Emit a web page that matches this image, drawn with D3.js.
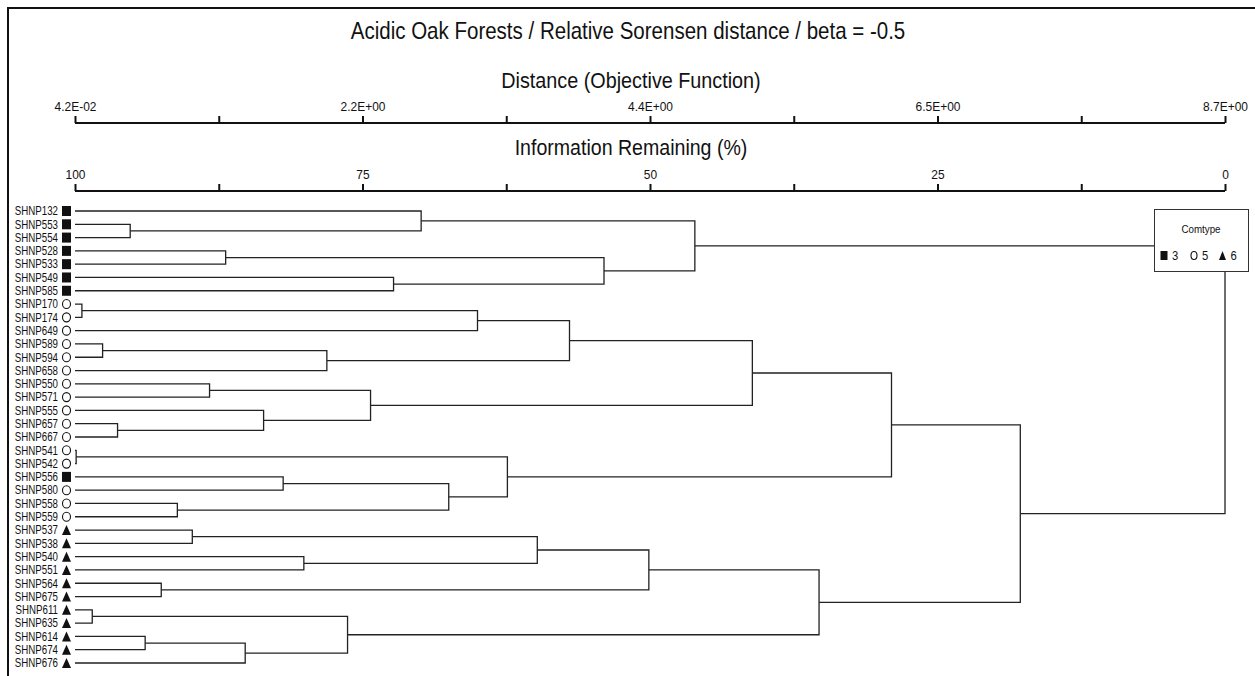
<!doctype html>
<html>
  <head>
    <meta charset="utf-8">
    <script src="https://cdn.jsdelivr.net/npm/d3@7"></script>
    <style>
    body {
      margin: 0;
      background: white;
    }

    .chart {
      font-family: 'Liberation Sans', Arial, sans-serif;
    }

    .axis path, .axis line {
      stroke: #111;
      stroke-width: 2px;
    }

    .axis .tick text {
      font-size: 13px;
      fill: #111;
    }

    .link {
      stroke: #222;
      stroke-width: 1.3px;
      fill: none;
    }

    .leaf-label {
      font-size: 12px;
      fill: #111;
    }
    </style>
  </head>

  <body>
    <svg class="chart"></svg>

  <script>

    const leaves = ["SHNP132","SHNP553","SHNP554","SHNP528","SHNP533","SHNP549","SHNP585",
                    "SHNP170","SHNP174","SHNP649","SHNP589","SHNP594","SHNP658","SHNP550",
                    "SHNP571","SHNP555","SHNP657","SHNP667","SHNP541","SHNP542","SHNP556",
                    "SHNP580","SHNP558","SHNP559","SHNP537","SHNP538","SHNP540","SHNP551",
                    "SHNP564","SHNP675","SHNP611","SHNP635","SHNP614","SHNP674","SHNP676"]

    const comtype = [3,3,3,3,3,3,3,
                     5,5,5,5,5,5,5,
                     5,5,5,5,5,5,3,
                     5,5,5,6,6,6,6,
                     6,6,6,6,6,6,6]

    // merges: [child a, child b, information remaining %]
    // strings are leaves, numbers point to an earlier merge row
    const merges = [
      ["SHNP553", "SHNP554", 95.2],   // 0
      ["SHNP132", 0, 69.9],           // 1
      ["SHNP528", "SHNP533", 86.9],   // 2
      ["SHNP549", "SHNP585", 72.3],   // 3
      [2, 3, 54.0],                   // 4
      [1, 4, 46.1],                   // 5
      ["SHNP170", "SHNP174", 99.4],   // 6
      [6, "SHNP649", 65.0],           // 7
      ["SHNP589", "SHNP594", 97.6],   // 8
      [8, "SHNP658", 78.1],           // 9
      [7, 9, 57.0],                   // 10
      ["SHNP550", "SHNP571", 88.3],   // 11
      ["SHNP657", "SHNP667", 96.3],   // 12
      ["SHNP555", 12, 83.6],          // 13
      [11, 13, 74.3],                 // 14
      [10, 14, 41.1],                 // 15
      ["SHNP541", "SHNP542", 99.9],   // 16
      ["SHNP556", "SHNP580", 81.9],   // 17
      ["SHNP558", "SHNP559", 91.1],   // 18
      [17, 18, 67.5],                 // 19
      [16, 19, 62.4],                 // 20
      [15, 20, 29.0],                 // 21
      ["SHNP537", "SHNP538", 89.8],   // 22
      ["SHNP540", "SHNP551", 80.1],   // 23
      [22, 23, 59.8],                 // 24
      ["SHNP564", "SHNP675", 92.5],   // 25
      [24, 25, 50.1],                 // 26
      ["SHNP611", "SHNP635", 98.5],   // 27
      ["SHNP614", "SHNP674", 93.9],   // 28
      [28, "SHNP676", 85.2],          // 29
      [27, 29, 76.3],                 // 30
      [26, 30, 35.3],                 // 31
      [21, 31, 17.8],                 // 32
      [5, 32, 0.0]                    // 33 root
    ]

    const distTicks = ["4.2E-02", "", "2.2E+00", "", "4.4E+00", "", "6.5E+00", "", "8.7E+00"]
    const infoTicks = [100, 87.5, 75, 62.5, 50, 37.5, 25, 12.5, 0]
    const legendTypes = [3, 5, 6]

    const W = 1255, H = 676
    const left = 75, right = 1225

    const svg = d3.select(".chart")
                  .attr("width", W)
                  .attr("height", H)

    // frame
    svg.append("rect")
      .attr("x", 8).attr("y", 8)
      .attr("width", W + 20).attr("height", H + 20)
      .attr("fill", "none")
      .attr("stroke", "#111")
      .attr("stroke-width", 2)

    const xInfo = d3.scaleLinear().domain([100, 0]).range([left, right])
    const xDist = d3.scalePoint().domain(d3.range(distTicks.length)).range([left, right])
    const yLeaf = d3.scalePoint().domain(leaves).range([211, 663])

    // no narrow font installed, so squeeze text horizontally
    function narrow(g, x, y, size, sx, anchor, txt) {
      return g.append("text")
        .attr("transform", "translate(" + x + "," + y + ") scale(" + sx + ",1)")
        .attr("text-anchor", anchor)
        .style("font-size", size + "px")
        .style("fill", "#111")
        .text(txt)
    }

    // titles
    narrow(svg, 628, 39, 24, 0.855, "middle", "Acidic Oak Forests / Relative Sorensen distance / beta = -0.5")
    narrow(svg, 631, 88, 22, 0.9, "middle", "Distance (Objective Function)")
    narrow(svg, 631, 155, 22, 0.89, "middle", "Information Remaining (%)")

    // axes
    svg.append("g")
      .attr("class", "axis")
      .attr("transform", "translate(0,123)")
      .call(d3.axisTop(xDist)
        .tickSize(7).tickSizeOuter(0).tickPadding(5)
        .tickFormat(i => distTicks[i]))

    svg.append("g")
      .attr("class", "axis")
      .attr("transform", "translate(0,191)")
      .call(d3.axisTop(xInfo)
        .tickValues(infoTicks)
        .tickSize(7).tickSizeOuter(0).tickPadding(5)
        .tickFormat(d => (d % 25 === 0 ? d : "")))

    svg.selectAll(".axis .domain").attr("d", "M" + left + ",0H" + right)
    svg.selectAll(".axis .tick text")
      .attr("transform", function() { return "translate(0," + d3.select(this).attr("y") + ") scale(0.92,1)" })
      .attr("y", 0)

    // node positions
    const pos = merges.map(() => null)
    function nodeOf(c) {
      if (typeof c === "string") return { x: xInfo(100), y: yLeaf(c) }
      return pos[c]
    }

    const links = svg.append("g")
    merges.forEach((m, i) => {
      const a = nodeOf(m[0]), b = nodeOf(m[1])
      const x = xInfo(m[2])
      const y = (a.y + b.y) / 2
      pos[i] = { x: x, y: y }
      links.append("path")
        .attr("class", "link")
        .attr("d", "M" + a.x + "," + a.y + "H" + x + "V" + b.y + "H" + b.x)
    })

    // leaf labels and symbols
    const leafG = svg.append("g")
    leaves.forEach(d => {
      narrow(leafG, 58, yLeaf(d) + 4.3, 12, 0.81, "end", d).attr("class", "leaf-label")
    })

    function symbol(g, type, cx, cy, w, h) {
      if (type === 3) {
        g.append("rect")
          .attr("x", cx - w / 2).attr("y", cy - h / 2)
          .attr("width", w).attr("height", h)
          .attr("fill", "#111")
      } else if (type === 5) {
        g.append("ellipse")
          .attr("cx", cx).attr("cy", cy)
          .attr("rx", w / 2 - 0.5).attr("ry", h / 2 - 0.5)
          .attr("fill", "white")
          .attr("stroke", "#111")
          .attr("stroke-width", 1.1)
      } else {
        g.append("path")
          .attr("d", "M" + cx + "," + (cy - h / 2) + "L" + (cx + w / 2) + "," + (cy + h / 2) + "L" + (cx - w / 2) + "," + (cy + h / 2) + "Z")
          .attr("fill", "#111")
      }
    }

    leaves.forEach((d, i) => symbol(leafG, comtype[i], 66.5, yLeaf(d), 9, 10))

    // legend
    const lg = svg.append("g")
    lg.append("rect")
      .attr("x", 1154.5).attr("y", 209.5)
      .attr("width", 94).attr("height", 62)
      .attr("fill", "white")
      .attr("stroke", "#333")
      .attr("stroke-width", 1)

    narrow(lg, 1201, 233, 11.5, 0.85, "middle", "Comtype")

    const legendX = [1164, 1194, 1222.5]
    legendTypes.forEach((t, i) => {
      symbol(lg, t, legendX[i], 255.5, 7, 9)
      narrow(lg, legendX[i] + 8, 260, 12.5, 0.9, "start", t)
    })

  </script>

  </body>
</html>
